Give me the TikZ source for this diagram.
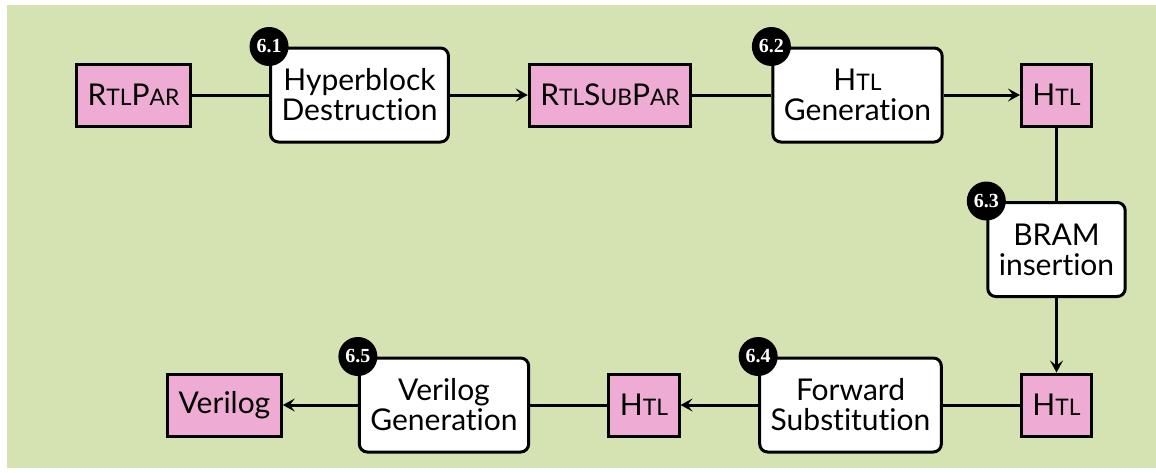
\documentclass[tikz,border=0pt]{standalone}
\usepackage{fontspec}
\setmainfont{Lato}[Ligatures=NoCommon]
\newfontfamily\numfont{Liberation Serif}
\usetikzlibrary{arrows.meta,positioning}
\definecolor{bggreen}{RGB}{213,226,178}
\definecolor{datapink}{RGB}{238,172,212}
% faked small capitals for the IR names
\newcommand{\smc}[1]{{\fontsize{11.4}{11}\selectfont #1}}
\newcommand{\Htl}{H\smc{TL}}

\begin{document}
\begin{tikzpicture}[x=0.5pt, y=-0.5pt,
  every node/.style={font=\fontsize{15}{15}\selectfont},
  process/.style={draw, line width=1.5pt, fill=white, rounded corners=4pt,
    align=center, minimum height=47pt, inner xsep=5.5pt},
  data/.style={draw, line width=1.5pt, fill=datapink, minimum height=31pt, inner xsep=5.5pt},
  badge/.style={circle, fill=black, text=white, inner sep=0pt, minimum size=19.5pt,
    font=\numfont\bfseries\fontsize{10}{10}\selectfont},
  flow/.style={line width=1.5pt},
  >={Stealth[length=6pt,width=6.5pt,inset=2.5pt]}]
  \useasboundingbox (0,0) rectangle (1156,472);
  \fill[bggreen] (7,5) rectangle (1156,468);

  % top row
  \node[data]    (rtlpar)    at (133.5,95) {R\smc{TL}P\smc{AR}};
  \node[process] (hbd)       at (359.5,95) {Hyperblock\\Destruction};
  \node[data]    (rtlsubpar) at (610,95)   {R\smc{TL}S\smc{UB}P\smc{AR}};
  \node[process] (htlgen)    at (857.5,95) {\Htl\\Generation};
  \node[data]    (htla)      at (1056.5,95) {\Htl};

  % right column
  \node[process] (bram) at (1056.5,249.5) {BRAM\\insertion};

  % bottom row
  \node[data]    (htlb)    at (1056.5,405) {\Htl};
  \node[process] (fwdsub)  at (850.5,405)  {Forward\\Substitution};
  \node[data]    (htlc)    at (644,405)    {\Htl};
  \node[process] (verigen) at (444,405)    {Verilog\\Generation};
  \node[data]    (verilog) at (224.5,405)  {Verilog};

  \draw[flow]    (rtlpar) -- (hbd);
  \draw[flow,->] (hbd) -- (rtlsubpar);
  \draw[flow]    (rtlsubpar) -- (htlgen);
  \draw[flow,->] (htlgen) -- (htla);
  \draw[flow]    (htla) -- (bram);
  \draw[flow,->] (bram) -- (htlb);
  \draw[flow]    (htlb) -- (fwdsub);
  \draw[flow,->] (fwdsub) -- (htlc);
  \draw[flow]    (htlc) -- (verigen);
  \draw[flow,->] (verigen) -- (verilog);

  % section numbers
  \node[badge] (b1) at (hbd.north west)     {6.1};
  \node[badge] (b2) at (htlgen.north west)  {6.2};
  \node[badge] (b3) at (bram.north west)    {6.3};
  \node[badge] (b4) at (fwdsub.north west)  {6.4};
  \node[badge] (b5) at (verigen.north west) {6.5};
\end{tikzpicture}
\end{document}
